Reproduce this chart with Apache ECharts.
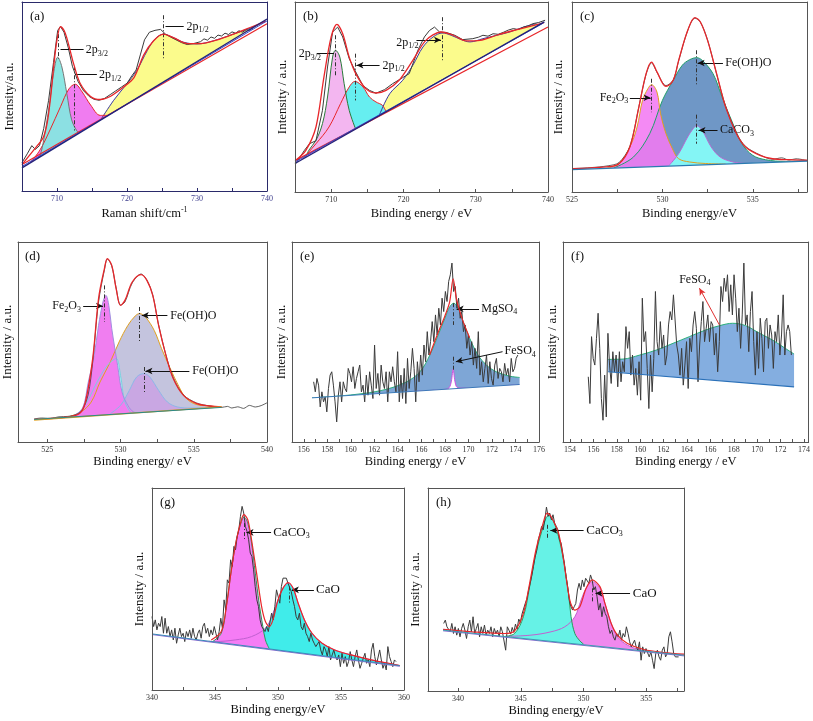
<!DOCTYPE html>
<html><head><meta charset="utf-8">
<script src="https://cdn.jsdelivr.net/npm/echarts@6/dist/echarts.min.js"></script>
<style>html,body{margin:0;padding:0;background:#fff}#c{width:813px;height:721px}</style>
</head><body><div id="c"></div>
<script>
// ---------------- (a) ----------------
const aRaw = [[705,15],[705.8,20],[706.4,24],[706.9,22],[707.5,24],[708.1,33],[708.8,48],[709.5,68],[710.1,85],[710.5,87],[711,84],[711.6,76],[712.2,66],[713,58],[713.8,53],[714.6,50],[715.3,48.5],[716,48],[716.8,49],[717.6,51],[718.4,53],[719.2,55],[720,57],[720.7,61],[721.3,64],[721.9,72],[722.5,80],[723.2,84],[724,85],[724.8,85.5],[725.5,83],[726.2,81.5],[727,80],[727.8,78.5],[728.6,77.5],[729.5,78],[730.5,79],[731,80.5],[731.5,79.8],[732,81.5],[732.5,80.8],[733,82.5],[733.5,82],[734,83.5],[734.5,82.8],[735,84.2],[735.5,83.5],[736,84.8],[736.5,84],[737,85.3],[737.5,85],[738.3,87],[739,88.5],[739.8,90]];
const aEnvelope = [[705,14],[707.1,23.6],[708,28],[708.6,36],[709.1,50],[709.5,65],[710,80],[710.5,87],[711,85],[711.4,81],[711.9,74],[712.4,67],[713.3,57],[714.8,50],[716.2,48.4],[717.6,50],[719.5,55],[721,60],[722.4,72],[723.8,79.5],[725.2,83],[726.7,81],[728.6,78],[730.5,78],[732.9,80],[735.2,83],[737.6,86.5],[739.8,89.7]];
const aBaseline = [[705,12.2],[740,91]];
const aBaselineRed = [[705,14],[740,88.5]];
const aBaselineBlue = [[705,13],[740,90]];
const aPeakYellow = [[716.2,37.4],[718.1,48],[720,56.8],[721.4,63.8],[722.9,74.3],[724,80.4],[725.2,83],[726.7,81],[728.1,78.7],[730,77.8],[732.4,79.5],[735.2,83],[737.6,86.2],[739.8,89.7]];
const aPeakMagenta = [[706.2,14.9],[707.6,21.9],[709,32.3],[710.5,44.6],[711.7,54],[712.6,56.5],[713.6,52.4],[714.8,45.5],[716.2,40],[717.4,40]];
const aPeakCyan = [[707.2,17.2],[707.6,19],[708.1,27],[708.8,42.8],[709.5,62],[710.1,70.8],[710.7,65.6],[711.4,51.6],[712.1,37.6],[712.9,31.5],[713.3,31]];
const aDash = [[710.2,83,70],[712.5,66,32],[725.2,93,70]];
const aXLabels = [710,720,730,740];
const aXTicks = [710,715,720,725,730,735,740];

// ---------------- (b) ----------------
const bRaw = [[705.1,14.9],[706.3,21.9],[707,25.4],[707.9,27],[708.8,43],[709.5,65.8],[710.2,84.2],[710.9,86.8],[711.6,81.6],[712.5,70.2],[713.4,63.2],[714.4,56],[715.3,53.5],[716.2,52],[717.4,53.9],[718.5,57],[719.9,60.2],[720.8,62.3],[722,74.6],[722.9,81.6],[723.6,85],[724.3,86.8],[725,84.2],[725.9,84],[727.1,82.5],[728.2,80.2],[729.6,80.7],[730.4,81.5],[731,82.5],[731.7,82],[732.4,83.3],[733.1,83],[733.8,84],[734.5,85.2],[735.2,86],[735.9,85.5],[736.6,86.8],[737.3,87.5],[737.9,88.6],[738.7,89.2],[739.6,90.4]];
const bEnvelope = [[705.1,16.7],[706.5,21.9],[707.9,34.2],[709,60.5],[710,81.6],[710.8,88.2],[711.6,83.3],[712.5,71],[713.4,62.3],[714.8,54.4],[716.2,52.1],[717.6,53.5],[719.4,58.8],[721.3,69.3],[723.1,79.8],[725.2,84.2],[726.9,82.5],[728.7,79.5],[730.6,79.8],[732.9,82.5],[735.2,85],[737.5,87.2],[739.4,89]];
const bBaseline = [[705,15],[739.5,89.5]];
const bBaselineRed = [[705,16.5],[740,86.8]];
const bBaselineBlue = [[705,15.8],[739.3,88.8]];
const bPeakYellow = [[716.7,40.7],[718.1,51.7],[719.9,58.8],[721.3,66.7],[722.7,76.3],[724.1,81.6],[725.4,83.7],[726.6,82.5],[728,80.2],[729.2,79],[731,80.7],[732.9,82.5],[734.7,84.2],[736.6,86.8],[738.4,88.6]];
const bPeakCyan = [[706,17.2],[707.9,25.4],[709.7,34.2],[711.3,46.5],[712.5,55.3],[713.3,58.2],[714.4,55.3],[715.3,50],[716.2,47.4],[717.1,45.6],[717.6,42.2]];
const bPeakPink = [[706.5,18.2],[706.9,21.9],[707.9,27.2],[708.8,36],[709.5,50],[710.2,71],[710.6,74.6],[711.2,71],[711.8,57],[712.5,43],[713.4,33]];
const bDash = [[710.6,82.5,60.5],[713.3,72.8,48.2],[725.4,92,69.3]];

// ---------------- (c) ----------------
const cRaw = [[525,12.3],[526,12.8],[527,13.8],[527.6,15.5],[528.2,24],[528.7,45],[529.1,62],[529.4,68],[529.7,63],[530.2,56],[530.6,59],[530.9,69],[531.4,85],[531.8,91.5],[532.1,89.5],[532.5,80],[533,62],[533.5,45],[534.1,31],[534.6,24],[535.4,19.5],[536.1,17.2],[536.6,18],[537,16.8],[537.4,17.5],[538,16.5]];
const cEnvelope = [[525,12.3],[526.9,13.2],[527.6,14.9],[528.2,23.7],[528.7,44.7],[529.1,62.3],[529.4,68.4],[529.7,63.2],[530.2,55.6],[530.6,58.8],[530.9,69.3],[531.4,85],[531.8,91.8],[532.1,89.5],[532.5,79.8],[533,62.3],[533.5,44.7],[534.1,30.7],[534.6,23.7],[535.4,19.3],[536.1,17.5],[537,17],[538,16.7]];
const cBaseline = [[525,11.8],[538,16.3]];
const cPeakBlue = [[527.3,12.6],[528.4,18.4],[529.3,30.7],[530,48.2],[530.6,58.8],[531.1,66.7],[531.5,69.6],[531.9,70.7],[532.2,69.3],[532.8,62.3],[533.3,50],[533.9,36],[534.4,25.4],[535,19.3],[535.7,17],[536.8,16.1],[538,16.4]];
const cPeakMagenta = [[526.9,12.5],[527.6,14.9],[528.2,23.7],[528.6,34.2],[528.9,48.2],[529.2,54.4],[529.4,56.5],[529.7,52.6],[529.9,41.2],[530.2,30.7],[530.6,21.9],[530.9,17.5],[531.5,15.8],[532.4,15],[533.5,14.7]];
const cPeakCyan = [[530.4,14.3],[530.9,20.2],[531.4,29],[531.7,33.3],[531.9,34.9],[532.2,32.5],[532.7,23.7],[533.2,18.4],[533.9,15.8],[534.6,15]];
const cDash = [[529.4,59.6,42],[531.85,74.6,56],[531.9,40.7,25.4]];

// ---------------- (d) ----------------
const dRaw = [[524.1,11.5],[524.6,12],[525.2,11.8],[525.8,12.6],[526.4,12.8],[527,13.8],[527.4,16],[527.8,24],[528.1,40],[528.5,70],[528.9,86],[529.1,91.5],[529.4,88],[529.7,77],[530,68.5],[530.3,70],[530.8,79.5],[531.4,84],[531.8,81],[532.2,73.5],[532.6,58.5],[533.1,43.5],[533.6,32],[534.3,23.5],[535.2,19.5],[536.1,18],[536.9,17.3],[537.3,17.8],[537.6,17],[538,17.6],[538.4,16.8],[538.8,18.3],[539.2,17.5],[539.6,18.2],[540,19.6]];
const dEnvelope = [[524.1,11.3],[526.4,12.5],[527.2,14.2],[527.6,20],[528.1,41.7],[528.5,71.7],[528.9,86.7],[529.1,91.7],[529.4,88.3],[529.7,76.7],[530,68.3],[530.3,70.8],[530.8,80],[531.4,83.7],[531.8,80.8],[532.2,73.3],[532.6,58.3],[533.1,43.3],[533.6,31.7],[534.3,23.3],[535.2,19.2],[536.1,18],[536.9,17.5]];
const dBaseline = [[524.1,11.3],[536.9,17.3]];
const dBaselineOrange = [[524.1,11],[536.9,17.6]];
const dPeakGray = [[526.4,12.5],[527.3,15],[528,20],[528.6,30],[529.3,40],[529.9,50],[530.5,58.3],[531,63],[531.3,64.2],[531.7,62.5],[532.3,55.8],[532.8,46.7],[533.4,36.7],[534,27.5],[534.5,21.7],[535.2,18.7],[536.1,18],[536.9,17.3]];
const dPeakPurple = [[529.3,14.2],[530,18.3],[530.6,25.8],[531.1,32.5],[531.6,34.2],[532,32.5],[532.6,25.8],[533.2,20],[533.9,17.5],[534.8,17],[535.9,17.2]];
const dPeakCyan = [[527,13.3],[527.7,20],[528.4,30],[529.1,38.3],[529.7,41.7],[530,33.3],[530.3,20],[530.8,13.6]];
const dPeakMagenta = [[526.8,13.3],[527.4,16.7],[527.8,30],[528.2,43.3],[528.5,58.3],[528.8,70],[529,73.3],[529.2,68.3],[529.4,56.7],[529.8,38.3],[530.1,25],[530.5,18.3],[530.9,15],[531.6,13.9]];
const dDash = [[528.9,78.3,60],[531.3,67.5,50],[531.6,37.5,25]];

// ---------------- (e) ----------------
const eEnergy = [156.84,156.98,157.12,157.26,157.40,157.54,157.68,157.82,157.96,158.10,158.24,158.38,158.52,158.66,158.80,158.94,159.08,159.22,159.36,159.50,159.64,159.78,159.92,160.06,160.20,160.34,160.48,160.62,160.76,160.90,161.04,161.18,161.32,161.46,161.60,161.74,161.88,162.02,162.16,162.30,162.44,162.58,162.72,162.86,163.00,163.14,163.28,163.42,163.56,163.70,163.84,163.98,164.12,164.26,164.40,164.54,164.68,164.82,164.96,165.10,165.24,165.38,165.52,165.66,165.80,165.94,166.08,166.22,166.36,166.50,166.64,166.78,166.92,167.06,167.20,167.34,167.48,167.62,167.76,167.90,168.04,168.18,168.32,168.46,168.60,168.74,168.88,169.02,169.16,169.30,169.44,169.58,169.72,169.86,170.00,170.14,170.28,170.42,170.56,170.70,170.84,170.98,171.12,171.26,171.40,171.54,171.68,171.82,171.96,172.10,172.24,172.38,172.52,172.66,172.80,172.94,173.08,173.22,173.36,173.50,173.64,173.78,173.92,174.06,174.20];
const eCounts = [180,150,190,170,105,150,120,135,90,160,200,210,170,120,60,140,180,120,180,160,150,220,205,180,225,160,190,210,230,150,170,120,200,140,210,170,130,290,160,205,140,230,180,160,210,120,210,180,225,180,150,270,120,200,130,220,115,250,160,210,280,220,120,240,180,260,200,290,240,330,260,300,360,300,380,320,400,350,430,390,450,420,480,500,535,450,465,400,430,370,390,330,350,280,320,260,300,230,280,220,330,200,240,180,220,260,175,240,190,170,230,250,190,220,210,180,235,200,220,180,250,210,220,250,260];
const eEnvelope = [[166.7,260],[167.4,325],[168,377],[168.4,418],[168.7,488],[169,425],[169.5,365],[170.1,312]];
const eBaseline = [[156.7,132],[174.35,172]];
const ePeakMgSO4 = [[156.7,132],[158.82,137],[161.07,145],[163.05,158],[164.75,180],[165.88,210],[166.72,260],[167.43,320],[168,370],[168.42,405],[168.76,415],[169.12,400],[169.55,360],[170.11,310],[170.82,260],[171.53,230],[172.37,210],[173.5,197],[174.35,193]];
const ePeakFeSO4 = [[164.7,150],[167.9,157],[168.35,162],[168.55,182],[168.7,218],[168.85,182],[169.05,163],[169.5,161],[174.35,172]];
const eDash = [[168.7,415,350],[168.7,255,210]];

// ---------------- (f) ----------------
const fEnergy = [155.56,155.70,155.84,155.98,156.12,156.26,156.40,156.54,156.68,156.82,156.96,157.10,157.24,157.38,157.52,157.66,157.80,157.94,158.08,158.22,158.36,158.50,158.64,158.78,158.92,159.06,159.20,159.34,159.48,159.62,159.76,159.90,160.04,160.18,160.32,160.46,160.60,160.74,160.88,161.02,161.16,161.30,161.44,161.58,161.72,161.86,162.00,162.14,162.28,162.42,162.56,162.70,162.84,162.98,163.12,163.26,163.40,163.54,163.68,163.82,163.96,164.10,164.24,164.38,164.52,164.66,164.80,164.94,165.08,165.22,165.36,165.50,165.64,165.78,165.92,166.06,166.20,166.34,166.48,166.62,166.76,166.90,167.04,167.18,167.32,167.46,167.60,167.74,167.88,168.02,168.16,168.30,168.44,168.58,168.72,168.86,169.00,169.14,169.28,169.42,169.56,169.70,169.84,169.98,170.12,170.26,170.40,170.54,170.68,170.82,170.96,171.10,171.24,171.38,171.52,171.66,171.80,171.94,172.08,172.22,172.36,172.50,172.64,172.78,172.92];
const fCounts = [195,115,315,250,230,310,385,280,130,65,200,75,325,230,175,270,210,260,165,270,180,240,210,345,280,330,200,260,170,220,140,240,125,430,300,330,220,100,260,150,250,450,300,260,360,280,320,230,260,350,390,365,440,435,290,260,200,280,170,230,300,160,310,270,350,390,340,180,290,360,420,300,340,380,300,360,350,260,325,210,300,465,420,490,450,500,390,470,380,500,430,330,400,280,380,535,350,380,270,390,450,300,200,330,220,370,310,210,360,370,280,350,320,220,330,300,380,260,320,440,260,330,350,330,260];
const fBaseline = [[157.26,210],[173.15,165]];
const fPeakFeSO4 = [[157.26,247],[158.54,248],[159.96,260],[161.38,275],[162.8,295],[164.2,315],[165.6,335],[166.8,348],[167.9,355],[169,348],[170.2,325],[171.3,305],[172.4,280],[173.15,263]];

// ---------------- (g) ----------------
const gEnergy = [340.00,340.13,340.26,340.39,340.52,340.65,340.78,340.91,341.04,341.17,341.30,341.43,341.56,341.69,341.82,341.95,342.08,342.21,342.34,342.47,342.60,342.73,342.86,342.99,343.12,343.25,343.38,343.51,343.64,343.77,343.90,344.03,344.16,344.29,344.42,344.55,344.68,344.81,344.94,345.07,345.20,345.33,345.46,345.59,345.72,345.85,345.98,346.11,346.24,346.37,346.50,346.63,346.76,346.89,347.02,347.15,347.28,347.41,347.54,347.67,347.80,347.93,348.06,348.19,348.32,348.45,348.58,348.71,348.84,348.97,349.10,349.23,349.36,349.49,349.62,349.75,349.88,350.01,350.14,350.27,350.40,350.53,350.66,350.79,350.92,351.05,351.18,351.31,351.44,351.57,351.70,351.83,351.96,352.09,352.22,352.35,352.48,352.61,352.74,352.87,353.00,353.13,353.26,353.39,353.52,353.65,353.78,353.91,354.04,354.17,354.30,354.43,354.56,354.69,354.82,354.95,355.08,355.21,355.34,355.47,355.60,355.73,355.86,355.99,356.12,356.25,356.38,356.51,356.64,356.77,356.90,357.03,357.16,357.29,357.42,357.55,357.68,357.81,357.94,358.07,358.20,358.33,358.46,358.59,358.72,358.85,358.98,359.11,359.24,359.37];
const gCounts = [220,190,210,180,200,190,220,170,215,170,190,160,180,150,185,140,165,185,160,170,145,175,160,180,155,185,160,150,170,180,155,190,200,170,185,160,180,165,190,170,150,175,215,185,270,240,330,320,390,370,430,420,460,480,520,550,530,490,475,450,410,400,360,310,270,250,210,190,185,175,190,175,180,230,210,250,300,280,260,310,335,330,335,320,325,295,270,250,220,210,230,190,180,200,170,160,145,170,150,140,130,125,145,120,105,130,120,100,130,90,105,120,100,90,105,70,110,80,100,70,85,115,90,70,100,120,90,65,80,95,110,80,90,70,120,140,100,75,70,120,90,65,80,60,130,100,85,70,90,85];
const gEnvelope = [[344.7,150],[345.5,175],[345.9,250],[346.3,360],[346.7,450],[347.1,510],[347.3,525],[347.6,510],[347.9,450],[348.3,350],[348.7,250],[349,205],[349.3,190],[349.6,210],[350,270],[350.4,305],[350.8,322],[351.2,305],[351.6,260],[352.1,210],[352.7,170],[353.5,140],[354.5,120],[355.8,105],[357.4,90],[359,78],[359.66,73]];
const gBaseline = [[340,168],[359.66,73]];
const gBaselinePurple = [[340,166],[359.66,71]];
const gPeakCaO = [[344.5,146],[345,145],[346.6,150],[347.9,160],[349,185],[349.5,220],[350,270],[350.4,305],[350.8,320],[351.2,305],[351.6,260],[352.1,210],[352.7,170],[353.5,140],[354.5,120],[355.8,105],[357.4,90],[359,78],[359.66,73]];
const gPeakCaCO3 = [[344.8,145],[345.5,170],[345.9,250],[346.3,360],[346.7,450],[347.1,505],[347.3,518],[347.6,500],[347.9,440],[348.2,350],[348.5,260],[348.8,190],[349,150],[349.3,124]];
const gDash = [[347.3,500,450],[350.9,310,260]];

// ---------------- (h) ----------------
const hEnergy = [338.85,338.98,339.11,339.24,339.37,339.50,339.63,339.76,339.89,340.02,340.15,340.28,340.41,340.54,340.67,340.80,340.93,341.06,341.19,341.32,341.45,341.58,341.71,341.84,341.97,342.10,342.23,342.36,342.49,342.62,342.75,342.88,343.01,343.14,343.27,343.40,343.53,343.66,343.79,343.92,344.05,344.18,344.31,344.44,344.57,344.70,344.83,344.96,345.09,345.22,345.35,345.48,345.61,345.74,345.87,346.00,346.13,346.26,346.39,346.52,346.65,346.78,346.91,347.04,347.17,347.30,347.43,347.56,347.69,347.82,347.95,348.08,348.21,348.34,348.47,348.60,348.73,348.86,348.99,349.12,349.25,349.38,349.51,349.64,349.77,349.90,350.03,350.16,350.29,350.42,350.55,350.68,350.81,350.94,351.07,351.20,351.33,351.46,351.59,351.72,351.85,351.98,352.11,352.24,352.37,352.50,352.63,352.76,352.89,353.02,353.15,353.28,353.41,353.54,353.67,353.80,353.93,354.06,354.19,354.32,354.45,354.58,354.71,354.84,354.97,355.10,355.23,355.36,355.49,355.62,355.75,355.88,356.01,356.14,356.27,356.40,356.53,356.66,356.79,356.92,357.05,357.18,357.31,357.44,357.57];
const hCounts = [202,212,192,197,177,202,172,192,167,187,162,187,202,182,157,192,212,177,222,172,187,202,162,192,172,197,167,182,172,192,162,187,172,182,162,192,177,172,122,192,182,170,190,175,200,185,215,205,230,225,262,275,300,322,345,372,400,420,452,470,492,482,512,550,522,532,512,527,502,492,482,452,442,412,382,342,312,272,252,242,252,262,302,322,302,332,312,337,342,322,347,332,302,312,282,242,262,222,252,232,222,192,172,182,162,152,172,162,182,152,172,162,192,172,147,132,137,152,132,122,147,92,132,112,127,122,102,117,92,67,112,122,102,92,122,132,102,112,162,177,147,112,102,97,102];
const hEnvelope = [[338.8,184],[341.1,177],[343.7,172],[344.5,180],[345.2,232],[345.7,322],[346.2,422],[346.7,492],[347.1,532],[347.4,522],[348,472],[348.4,392],[348.9,272],[349.3,242],[349.7,252],[350.2,307],[350.7,332],[351.3,312],[351.7,262],[352.2,202],[352.7,167],[353.5,142],[354.8,124],[356.4,115],[358,110]];
const hBaseline = [[338.8,182],[358,107]];
const hBaselinePurple = [[338.8,180],[358,105]];
const hPeakCaCO3 = [[343.7,163],[344.5,172],[345.2,222],[345.7,312],[346.2,412],[346.7,482],[347,517],[347.2,525],[347.6,507],[348,462],[348.4,392],[348.8,292],[349,222],[349.3,172],[349.7,150],[350,140]];
const hPeakCaO = [[343.7,163],[345.8,167],[347.4,177],[348.5,192],[349.3,222],[349.8,272],[350.2,307],[350.7,327],[351.3,307],[351.7,262],[352.2,202],[352.7,162],[353.5,137],[354.6,122],[355.9,114],[358,107]];
const hDash = [[347.1,497,452],[350.7,307,267]];

// ---------------- building ----------------
const SERIF = '"Liberation Serif","Times New Roman",serif';
const RICH = {
  s: {fontSize: 8, fontFamily: SERIF, verticalAlign: 'bottom', lineHeight: 15},
  sup: {fontSize: 8, fontFamily: SERIF, verticalAlign: 'top', lineHeight: 15}
};
function pairs(xs, ys) { const n = Math.min(xs.length, ys.length); const o = []; for (let i = 0; i < n; i++) o.push([xs[i], ys[i]]); return o; }
// white mask under the baseline, stretched over the whole axis so peak fills never show below it
function maskFrom(b, x0, x1) {
  const p = b[0], q = b[b.length - 1], k = (q[1] - p[1]) / (q[0] - p[0]);
  const o = b.slice();
  if (x0 < p[0]) o.unshift([x0, p[1] + (x0 - p[0]) * k]);
  if (x1 > q[0]) o.push([x1, q[1] + (x1 - q[0]) * k]);
  return o;
}

const option = {animation: false, backgroundColor: '#fff', title: [], grid: [], xAxis: [], yAxis: [], series: []};
const RAW = '#3b3b3b', RED = '#e8262a', NAVY = '#23237a';

function addPanel(p) {
  const gi = option.grid.length;
  option.grid.push({left: p.box[0], top: p.box[1], width: p.box[2], height: p.box[3]});
  const xi = option.xAxis.length, yi = option.yAxis.length;
  const ac = p.axisColor || '#555';
  option.xAxis.push({type: 'value', gridIndex: gi, min: p.xMin, max: p.xMax, position: 'bottom', z: 10,
    name: p.xName, nameLocation: 'middle', nameGap: p.xNameGap,
    nameTextStyle: {fontFamily: SERIF, fontSize: 12.5, color: '#111', rich: RICH},
    axisLine: {show: true, onZero: false, lineStyle: {color: ac, width: 1}},
    axisTick: {show: true, inside: true, length: 3, customValues: p.xTicks, lineStyle: {color: ac}},
    axisLabel: {show: true, customValues: p.xLabels, fontFamily: SERIF, fontSize: 8, color: p.labelColor || '#333', margin: 4},
    splitLine: {show: false}});
  option.xAxis.push({type: 'value', gridIndex: gi, min: p.xMin, max: p.xMax, position: 'top', z: 10,
    axisLine: {show: true, onZero: false, lineStyle: {color: ac}}, axisTick: {show: false}, axisLabel: {show: false}, splitLine: {show: false}});
  option.yAxis.push({type: 'value', gridIndex: gi, min: 0, max: p.yMax, position: 'left', z: 10,
    name: p.yName, nameLocation: 'middle', nameGap: p.yNameGap,
    nameTextStyle: {fontFamily: SERIF, fontSize: 13, color: '#111'},
    axisLine: {show: true, onZero: false, lineStyle: {color: ac}}, axisTick: {show: false}, axisLabel: {show: false}, splitLine: {show: false}});
  option.yAxis.push({type: 'value', gridIndex: gi, min: 0, max: p.yMax, position: 'right', z: 10,
    axisLine: {show: true, onZero: false, lineStyle: {color: ac}}, axisTick: {show: false}, axisLabel: {show: false}, splitLine: {show: false}});
  option.title.push({text: p.letter, left: p.box[0] + 3, top: p.box[1] + 3,
    textStyle: {fontFamily: SERIF, fontSize: 13, fontWeight: 'normal', color: '#111'}});
  const base = {xAxisIndex: xi, yAxisIndex: yi, silent: true, symbol: 'none', showSymbol: false, animation: false};
  p.peaks.forEach(pk => option.series.push(Object.assign({type: 'line', data: pk.data, smooth: 0.35, z: 2,
    lineStyle: {color: pk.line, width: 1}, areaStyle: {color: pk.fill, opacity: pk.opacity == null ? 1 : pk.opacity}}, base)));
  option.series.push(Object.assign({type: 'line', data: maskFrom(p.mask, p.xMin - 1, p.xMax + 1), z: 3, lineStyle: {width: 0, opacity: 0},
    areaStyle: {color: '#ffffff', opacity: 1}}, base));
  p.lines.forEach(l => option.series.push(Object.assign({type: 'line', data: l.data, smooth: l.smooth || false, z: l.z || 5,
    lineStyle: {color: l.color, width: l.width || 1}}, base)));
  const ml = [];
  p.dashes.forEach(d => {
    const ls = {type: [4, 2, 1, 2], color: '#333', width: 1};
    ml.push([{coord: [d[0], d[1]], symbol: 'none', lineStyle: ls}, {coord: [d[0], d[2]], symbol: 'none', lineStyle: ls}]);
  });
  const mp = [];
  p.notes.forEach(n => {
    const ls = {type: 'solid', color: n.color || '#111', width: 1};
    ml.push([{coord: n.from, symbol: 'none', lineStyle: ls},
             {coord: n.to, symbol: n.arrow ? 'arrow' : 'none', symbolSize: [5, 7], lineStyle: ls}]);
    mp.push({coord: n.at, symbol: 'circle', symbolSize: 1, itemStyle: {color: 'rgba(0,0,0,0)'},
      label: {show: true, position: n.pos || 'right', distance: 1, formatter: n.text,
        fontFamily: SERIF, fontSize: n.size || 12, color: '#111', lineHeight: 15, rich: RICH}});
  });
  option.series.push(Object.assign({type: 'line', data: [], z: 7,
    markLine: {silent: true, animation: false, symbol: ['none', 'none'], label: {show: false}, data: ml},
    markPoint: {silent: true, animation: false, data: mp}}, base));
}

// (a)
addPanel({letter: '(a)', box: [22, 2, 245, 189], xMin: 705, xMax: 740, yMax: 100,
  xLabels: aXLabels, xTicks: aXTicks, axisColor: '#2a2a6a', labelColor: '#3a3a8a',
  xName: 'Raman shift/cm{sup|-1}', xNameGap: 15, yName: 'Intensity/a.u.', yNameGap: 6,
  peaks: [{data: aPeakYellow, fill: '#fbfb8c', line: '#3a3aa0'},
          {data: aPeakMagenta, fill: '#f07cf0', line: RED},
          {data: aPeakCyan, fill: '#86e6e2', line: '#777', opacity: 0.95}],
  mask: aBaseline,
  lines: [{data: aRaw, color: RAW, width: 1, z: 4}, {data: aEnvelope, color: RED, width: 1.3, smooth: 0.3},
          {data: aBaselineRed, color: RED, width: 1.2}, {data: aBaselineBlue, color: '#3a4ad0', width: 1}, {data: aBaseline, color: NAVY, width: 1.4}],
  dashes: aDash,
  notes: [{text: '2p{s|3/2}', at: [713.9, 74.5], from: [710.5, 75.2], to: [713.8, 75.2]},
          {text: '2p{s|1/2}', at: [715.8, 61.2], from: [712.6, 61.7], to: [715.7, 61.7]},
          {text: '2p{s|1/2}', at: [728.3, 87], from: [725.5, 87.4], to: [728.1, 87.4]}]});

// (b)
addPanel({letter: '(b)', box: [295, 2, 253, 190], xMin: 705, xMax: 740, yMax: 100,
  xLabels: aXLabels, xTicks: aXTicks,
  xName: 'Binding energy / eV', xNameGap: 15, yName: 'Intensity / a.u.', yNameGap: 6,
  peaks: [{data: bPeakYellow, fill: '#fbfb8c', line: '#3a3aa0'},
          {data: bPeakCyan, fill: '#66eef0', line: RED},
          {data: bPeakPink, fill: '#f3b6f0', line: '#2a7a3a'}],
  mask: bBaseline,
  lines: [{data: bRaw, color: RAW, width: 1, z: 4}, {data: bEnvelope, color: RED, width: 1.3, smooth: 0.3},
          {data: bBaselineRed, color: RED, width: 1.2}, {data: bBaselineBlue, color: '#3a4ad0', width: 1}, {data: bBaseline, color: NAVY, width: 1.4}],
  dashes: bDash,
  notes: [{text: '2p{s|3/2}', at: [705.3, 72.5], from: [708, 72.8], to: [710.4, 72.8]},
          {text: '2p{s|1/2}', at: [716.9, 66.4], from: [716.7, 66.7], to: [713.5, 66.7], arrow: true},
          {text: '2p{s|1/2}', at: [718.8, 78.5], from: [721.8, 80], to: [725.2, 80], arrow: true}]});

// (c)
addPanel({letter: '(c)', box: [572, 2, 235, 190], xMin: 525, xMax: 538, yMax: 100,
  xLabels: [525, 530, 535], xTicks: [527.5, 530, 532.5, 535, 537.5],
  xName: 'Binding energy/eV', xNameGap: 15, yName: 'Intensity / a.u.', yNameGap: 7,
  peaks: [{data: cPeakBlue, fill: '#6f97c6', line: '#1f9e6a'},
          {data: cPeakMagenta, fill: '#f27af2', line: '#e0a020', opacity: 0.88},
          {data: cPeakCyan, fill: '#84f5f5', line: '#b66ad0'}],
  mask: cBaseline,
  lines: [{data: cRaw, color: RAW, width: 0.8, z: 4, smooth: 0.3}, {data: cEnvelope, color: RED, width: 1.3, smooth: 0.35},
          {data: cBaseline, color: '#2a7ab0', width: 1.2}],
  dashes: cDash,
  notes: [{text: 'Fe(OH)O', at: [533.4, 67.9], from: [533.35, 67.9], to: [531.95, 67.9], arrow: true},
          {text: 'CaCO{s|3}', at: [533.1, 32.5], from: [533.05, 32.5], to: [532.0, 32.5], arrow: true},
          {text: 'Fe{s|2}O{s|3}', at: [528.2, 49.6], pos: 'left', from: [528.2, 49.6], to: [529.35, 49.6], arrow: true}]});

// (d)
addPanel({letter: '(d)', box: [17, 242, 250, 200], xMin: 523, xMax: 540, yMax: 100,
  xLabels: [525, 530, 535, 540], xTicks: [525, 527.5, 530, 532.5, 535, 537.5],
  xName: 'Binding energy/ eV', xNameGap: 13, yName: 'Intensity / a.u.', yNameGap: 4,
  peaks: [{data: dPeakGray, fill: '#c4c4de', line: '#e0a020'},
          {data: dPeakPurple, fill: '#c9a7e3', line: '#8cb8e8'},
          {data: dPeakCyan, fill: '#b9f5f3', line: '#7ad0e0'},
          {data: dPeakMagenta, fill: '#f07ef0', line: '#a090e0'}],
  mask: dBaseline,
  lines: [{data: dRaw, color: RAW, width: 0.8, z: 4, smooth: 0.3}, {data: dEnvelope, color: RED, width: 1.3, smooth: 0.35},
          {data: dBaselineOrange, color: '#e0a020', width: 1.3}, {data: dBaseline, color: '#2a8a8a', width: 1}],
  dashes: dDash,
  notes: [{text: 'Fe{s|2}O{s|3}', at: [527.4, 68], pos: 'left', from: [527.45, 68], to: [528.8, 68], arrow: true},
          {text: 'Fe(OH)O', at: [533.3, 63.3], from: [533.2, 63.3], to: [531.45, 63.3], arrow: true},
          {text: 'Fe(OH)O', at: [534.8, 35.5], from: [534.7, 35.5], to: [531.7, 35.5], arrow: true}]});

// (e)
addPanel({letter: '(e)', box: [292, 242, 247, 200], xMin: 155, xMax: 176, yMax: 598,
  xLabels: [156, 158, 160, 162, 164, 166, 168, 170, 172, 174, 176],
  xTicks: [156, 157, 158, 159, 160, 161, 162, 163, 164, 165, 166, 167, 168, 169, 170, 171, 172, 173, 174, 175],
  xName: 'Binding energy / eV', xNameGap: 13, yName: 'Intensity / a.u.', yNameGap: 4,
  peaks: [{data: ePeakMgSO4, fill: '#7ea6d6', line: '#2ab07a'},
          {data: ePeakFeSO4, fill: '#ffffff', line: '#d050e0'}],
  mask: eBaseline,
  lines: [{data: pairs(eEnergy, eCounts), color: RAW, width: 1, z: 4}, {data: eEnvelope, color: RED, width: 1.2, smooth: 0.3},
          {data: eBaseline, color: '#3a7ab8', width: 1}],
  dashes: eDash,
  notes: [{text: 'MgSO{s|4}', at: [170.96, 398], from: [170.9, 398], to: [169.0, 398], arrow: true},
          {text: 'FeSO{s|4}', at: [172.94, 272], from: [172.9, 270], to: [168.93, 240], arrow: true}]});

// (f)
addPanel({letter: '(f)', box: [563, 242, 246, 200], xMin: 153.4, xMax: 174.4, yMax: 598,
  xLabels: [154, 156, 158, 160, 162, 164, 166, 168, 170, 172, 174],
  xTicks: [154, 155, 156, 157, 158, 159, 160, 161, 162, 163, 164, 165, 166, 167, 168, 169, 170, 171, 172, 173, 174],
  xName: 'Binding energy / eV', xNameGap: 13, yName: 'Intensity / a.u.', yNameGap: 4,
  peaks: [{data: fPeakFeSO4, fill: '#84aee0', line: '#2ab07a'}],
  mask: fBaseline,
  lines: [{data: pairs(fEnergy, fCounts), color: RAW, width: 1, z: 4}, {data: fBaseline, color: '#2a70b8', width: 1.2}],
  dashes: [],
  notes: [{text: 'FeSO{s|4}', at: [163.2, 485], from: [166.77, 350], to: [165.06, 460], arrow: true, color: '#e03030'}]});

// (g)
addPanel({letter: '(g)', box: [152, 488, 252, 202], xMin: 340, xMax: 360, yMax: 605,
  xLabels: [340, 345, 350, 355, 360], xTicks: [342.5, 345, 347.5, 350, 352.5, 355, 357.5],
  xName: 'Binding energy/eV', xNameGap: 13, yName: 'Intensity / a.u.', yNameGap: 6,
  peaks: [{data: gPeakCaO, fill: '#40ecea', line: '#c060d0'},
          {data: gPeakCaCO3, fill: '#f57cf5', line: '#2a9a5a'}],
  mask: gBaseline,
  lines: [{data: pairs(gEnergy, gCounts), color: RAW, width: 1, z: 4}, {data: gEnvelope, color: RED, width: 1.2, smooth: 0.3},
          {data: gBaselinePurple, color: '#8a6ad0', width: 1}, {data: gBaseline, color: '#3a8ab8', width: 1}],
  dashes: gDash,
  notes: [{text: 'CaCO{s|3}', at: [349.5, 472], from: [349.45, 472], to: [347.5, 472], arrow: true, size: 13},
          {text: 'CaO', at: [352.9, 300], from: [352.85, 300], to: [351.1, 300], arrow: true, size: 13}]});

// (h)
addPanel({letter: '(h)', box: [428, 488, 256, 203], xMin: 337.6, xMax: 358, yMax: 607,
  xLabels: [340, 345, 350, 355], xTicks: [340, 342.5, 345, 347.5, 350, 352.5, 355, 357.5],
  xName: 'Binding energy/eV', xNameGap: 13, yName: 'Intensity / a.u.', yNameGap: 6,
  peaks: [{data: hPeakCaO, fill: '#f088ee', line: '#c060d0'},
          {data: hPeakCaCO3, fill: '#66f2e6', line: '#2a9a5a'}],
  mask: hBaseline,
  lines: [{data: pairs(hEnergy, hCounts), color: RAW, width: 1, z: 4}, {data: hEnvelope, color: RED, width: 1.2, smooth: 0.3},
          {data: hBaselinePurple, color: '#8a6ad0', width: 1}, {data: hBaseline, color: '#3a9ab0', width: 1}],
  dashes: hDash,
  notes: [{text: 'CaCO{s|3}', at: [350.1, 480], from: [350.0, 480], to: [347.35, 480], arrow: true, size: 13},
          {text: 'CaO', at: [353.8, 292], from: [353.7, 292], to: [350.95, 292], arrow: true, size: 13}]});

const chart = echarts.init(document.getElementById('c'), null, {renderer: 'canvas'});
chart.setOption(option);
</script></body></html>
